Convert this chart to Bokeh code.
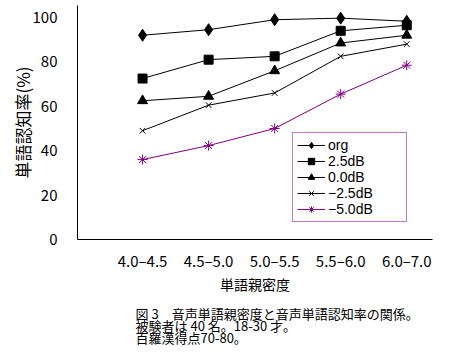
from bokeh.plotting import figure
from bokeh.models import Range1d, FixedTicker, Legend, LegendItem, Title
from bokeh.embed import file_html
from bokeh.resources import INLINE

# ---- data ----
categories = ["4.0–4.5", "4.5–5.0", "5.0–5.5", "5.5–6.0", "6.0–7.0"]
x_pos = [0, 1, 2, 3, 4]
org = [92, 94.5, 99, 99.7, 98.3]
db_p25 = [72.5, 81, 82.5, 94, 96.5]
db_00 = [62.5, 64.5, 76, 88.5, 92]
db_m25 = [49, 60.5, 66, 82.5, 88]
db_m50 = [36, 42.3, 50, 65.5, 78.5]
series_names = ["org", "2.5dB", "0.0dB", "−2.5dB", "−5.0dB"]
y_ticks = [0, 20, 40, 60, 80, 100]
x_title = "単語親密度"
y_title = "単語認知率(%)"
caption_lines = [
    "図 3　音声単語親密度と音声単語認知率の関係。",
    "被験者は 40 名。18-30 才。",
    "百羅漢得点70-80。",
]

FONT = "Noto Sans CJK JP"
LATIN = "Liberation Sans"
PURPLE = "#800080"

W, H = 452, 354
L, R, T, B = 77, 20, 5, 115

p = figure(width=W, height=H, x_range=Range1d(-0.985, 4.39), y_range=Range1d(0, 105.4),
           output_backend="svg", toolbar_location=None,
           min_border_left=L, min_border_right=R, min_border_top=T, min_border_bottom=B)
p.outline_line_color = None
p.grid.visible = False
p.background_fill_color = "white"
p.border_fill_color = "white"

# axes
xa = p.xaxis[0]
xa.ticker = FixedTicker(ticks=x_pos)
xa.major_label_overrides = {i: c for i, c in zip(x_pos, categories)}
xa.major_tick_line_color = None
xa.minor_tick_line_color = None
xa.axis_line_color = "black"
xa.major_label_standoff = 4
xa.major_label_text_font = FONT
xa.major_label_text_font_size = "15px"
xa.major_label_text_color = "black"
xa.axis_label = x_title
xa.axis_label_text_font = FONT
xa.axis_label_text_font_size = "14px"
xa.axis_label_text_font_style = "normal"
xa.axis_label_text_color = "black"
xa.axis_label_standoff = 0

ya = p.yaxis[0]
ya.ticker = FixedTicker(ticks=y_ticks)
ya.major_tick_line_color = None
ya.minor_tick_line_color = None
ya.axis_line_color = "black"
ya.major_label_standoff = 14
ya.major_label_text_font = FONT
ya.major_label_text_font_size = "15px"
ya.major_label_text_color = "black"
ya.axis_label = y_title
ya.axis_label_text_font = FONT
ya.axis_label_text_font_size = "17px"
ya.axis_label_text_font_style = "normal"
ya.axis_label_text_color = "black"
ya.axis_label_standoff = -5

series = [org, db_p25, db_00, db_m25, db_m50]
markers = ["diamond", "square", "triangle", "x", "asterisk"]
sizes = [12, 9, 10, 8, 10]
colors = ["black", "black", "black", "black", PURPLE]

items = []
for name, vals, m, s, c in zip(series_names, series, markers, sizes, colors):
    lr = p.line(x_pos, vals, line_color=c, line_width=1)
    sr = p.scatter(x_pos, vals, marker=m, size=s, fill_color=c, line_color=c, line_width=1)
    items.append(LegendItem(label=name, renderers=[lr, sr]))

legend = Legend(items=items, location=(215, 17), margin=0, padding=4, spacing=0,
                glyph_height=16, label_height=16, glyph_width=28, label_standoff=3,
                label_width=74, border_line_color=PURPLE, border_line_width=1,
                background_fill_color="white", background_fill_alpha=1,
                label_text_font=LATIN, label_text_font_size="14px",
                label_text_color="black")
p.add_layout(legend, "center")

# caption below the x axis
cap = Title(text="\n".join(caption_lines), align="left", offset=135 - L,
            text_font=FONT, text_font_size="13px", text_font_style="normal",
            text_color="black", text_line_height=0.64, standoff=12)
p.add_layout(cap, "below")

open("out.html", "w").write(file_html(p, INLINE))
